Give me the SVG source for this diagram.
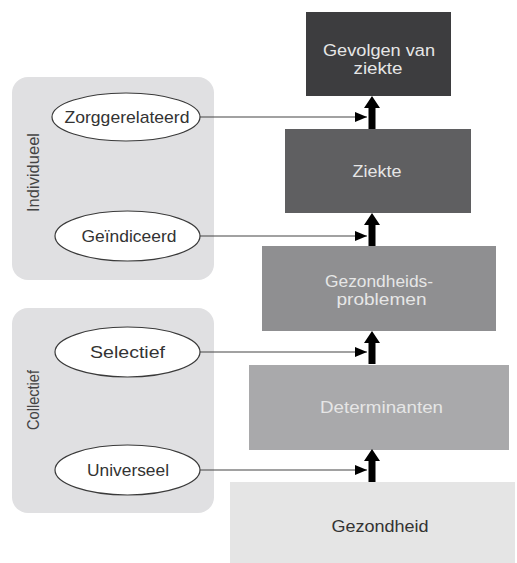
<svg xmlns="http://www.w3.org/2000/svg" width="517" height="563" viewBox="0 0 517 563">
<style>
.panel{fill:#e0e0e2;}
.ell{fill:#ffffff;stroke:#3a3a3a;stroke-width:1.2;}
.etxt{font-family:"Liberation Sans",Arial,sans-serif;font-size:17px;fill:#333333;text-anchor:middle;}
.btxt{font-family:"Liberation Sans",Arial,sans-serif;font-size:16px;fill:#e6e6e6;text-anchor:middle;}
.dtxt{font-family:"Liberation Sans",Arial,sans-serif;font-size:16px;fill:#333333;text-anchor:middle;}
.vtxt{font-family:"Liberation Sans",Arial,sans-serif;font-size:17px;fill:#444444;text-anchor:middle;}
.thin{stroke:#444444;stroke-width:1.2;fill:none;marker-end:url(#ah);}
.thick{fill:#000000;}
</style>
<defs>
<marker id="ah" viewBox="0 0 12 10" refX="12" refY="5" markerWidth="12" markerHeight="10" markerUnits="userSpaceOnUse" orient="auto">
<path d="M0,0 L12,5 L0,10 Z" fill="#000000"/>
</marker>
<path id="thickArrow" d="M-3.5,33 L-3.5,12 L-8,12 L0,0 L8,12 L3.5,12 L3.5,33 Z"/>
</defs>

<g id="panel-individueel">
<rect class="panel" x="12" y="77" width="202" height="203" rx="16"/>
<text class="vtxt" transform="translate(39,172.5) rotate(-90)" textLength="79" lengthAdjust="spacingAndGlyphs">Individueel</text>
</g>
<g id="panel-collectief">
<rect class="panel" x="12" y="308" width="202" height="205" rx="16"/>
<text class="vtxt" transform="translate(39,400) rotate(-90)" textLength="60" lengthAdjust="spacingAndGlyphs">Collectief</text>
</g>

<g id="node-zorggerelateerd">
<ellipse class="ell" cx="126" cy="117" rx="74" ry="24"/>
<text class="etxt" x="127" y="123" textLength="125" lengthAdjust="spacingAndGlyphs">Zorggerelateerd</text>
</g>
<g id="node-geindiceerd">
<ellipse class="ell" cx="127.5" cy="236" rx="72.5" ry="25"/>
<text class="etxt" x="129" y="242" textLength="95" lengthAdjust="spacingAndGlyphs">Geïndiceerd</text>
</g>
<g id="node-selectief">
<ellipse class="ell" cx="127.5" cy="352" rx="72.5" ry="25"/>
<text class="etxt" x="127.5" y="358" textLength="75" lengthAdjust="spacingAndGlyphs">Selectief</text>
</g>
<g id="node-universeel">
<ellipse class="ell" cx="127.5" cy="470" rx="72.5" ry="25"/>
<text class="etxt" x="128" y="476" textLength="82" lengthAdjust="spacingAndGlyphs">Universeel</text>
</g>

<g id="node-gevolgen">
<rect x="306" y="12" width="145" height="84" fill="#3d3d3f"/>
<text class="btxt" x="379" y="56" textLength="112" lengthAdjust="spacingAndGlyphs">Gevolgen van</text>
<text class="btxt" x="378" y="74" textLength="49" lengthAdjust="spacingAndGlyphs">ziekte</text>
</g>
<g id="node-ziekte">
<rect x="285" y="129" width="186" height="84" fill="#5f5f61"/>
<text class="btxt" x="377" y="177" textLength="49" lengthAdjust="spacingAndGlyphs">Ziekte</text>
</g>
<g id="node-gezondheidsproblemen">
<rect x="262" y="246" width="234" height="85" fill="#8f8f91"/>
<text class="btxt" x="379" y="287" textLength="108" lengthAdjust="spacingAndGlyphs">Gezondheids-</text>
<text class="btxt" x="381.5" y="305" textLength="90" lengthAdjust="spacingAndGlyphs">problemen</text>
</g>
<g id="node-determinanten">
<rect x="249" y="365" width="260" height="85" fill="#a9a9ab"/>
<text class="btxt" x="381.5" y="413" textLength="123" lengthAdjust="spacingAndGlyphs">Determinanten</text>
</g>
<g id="node-gezondheid">
<rect x="230" y="482" width="285" height="81" fill="#e5e5e5"/>
<text class="dtxt" x="380" y="532" textLength="97" lengthAdjust="spacingAndGlyphs">Gezondheid</text>
</g>

<g id="connectors">
<line class="thin" x1="200" y1="117" x2="367" y2="117"/>
<line class="thin" x1="200" y1="236" x2="367" y2="236"/>
<line class="thin" x1="200" y1="352" x2="367" y2="352"/>
<line class="thin" x1="200" y1="470" x2="367" y2="470"/>
<use href="#thickArrow" class="thick" x="372" y="96"/>
<use href="#thickArrow" class="thick" x="372" y="213"/>
<use href="#thickArrow" class="thick" x="372" y="331"/>
<use href="#thickArrow" class="thick" x="372" y="449"/>
</g>
</svg>
